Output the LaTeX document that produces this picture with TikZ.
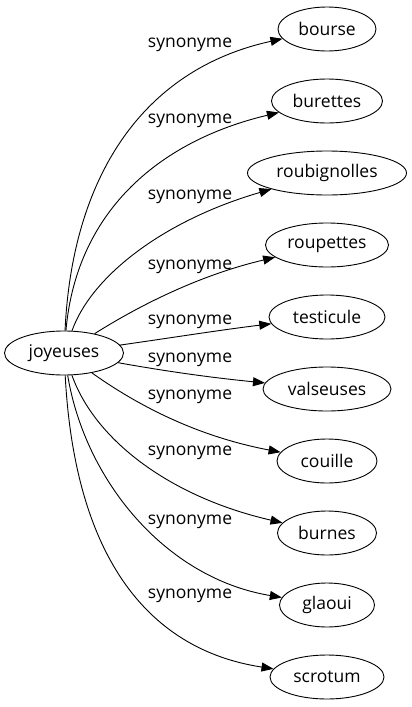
\documentclass[tikz,border=0pt]{standalone}
\usepackage{fontspec}
\setmainfont{Open Sans}
\usetikzlibrary{arrows.meta,shapes.geometric}
\begin{document}
\begin{tikzpicture}[x=1pt,y=-1pt,
  word/.style={ellipse,draw,line width=0.9pt,inner sep=0pt,minimum height=44pt,font=\fontsize{17.5}{20}\selectfont},
  syn/.style={-{Triangle[length=12pt,width=9pt]},line width=0.9pt},
  lab/.style={font=\fontsize{17.5}{20}\selectfont,inner sep=0pt}]
\useasboundingbox (0,0) rectangle (412,707);
\node[word,minimum width=119pt] (j) at (64,353) {joyeuses};
\node[word,minimum width=98pt]  (n1)  at (327,29)  {bourse};
\node[word,minimum width=111pt] (n2)  at (327,101) {burettes};
\node[word,minimum width=159pt] (n3)  at (327,173) {roubignolles};
\node[word,minimum width=123pt] (n4)  at (327,245) {roupettes};
\node[word,minimum width=116pt] (n5)  at (327,317) {testicule};
\node[word,minimum width=128pt] (n6)  at (327,389) {valseuses};
\node[word,minimum width=100pt] (n7)  at (327,461) {couille};
\node[word,minimum width=99pt]  (n8)  at (327,533) {burnes};
\node[word,minimum width=95pt]  (n9)  at (327,605) {glaoui};
\node[word,minimum width=114pt] (n10) at (327,677) {scrotum};
\draw[syn] (j) .. controls (72,180) and (140,70) .. (n1);
\draw[syn] (j) .. controls (76,215) and (155,142) .. (n2);
\draw[syn] (j) .. controls (92,275) and (165,220) .. (n3);
\draw[syn] (j) .. controls (140,305) and (200,275) .. (n4);
\draw[syn] (j) .. controls (170,338) and (220,330) .. (n5);
\draw[syn] (j) .. controls (170,372) and (215,378) .. (n6);
\draw[syn] (j) .. controls (130,400) and (190,435) .. (n7);
\draw[syn] (j) .. controls (95,440) and (170,497) .. (n8);
\draw[syn] (j) .. controls (85,480) and (165,578) .. (n9);
\draw[syn] (j) .. controls (75,560) and (150,650) .. (n10);
\node[lab] (l1)  at (190,45)  {synonyme};
\node[lab] (l2)  at (190,121) {synonyme};
\node[lab] (l3)  at (190,197) {synonyme};
\node[lab] (l4)  at (190,267) {synonyme};
\node[lab] (l5)  at (190,322) {synonyme};
\node[lab] (l6)  at (190,360) {synonyme};
\node[lab] (l7)  at (190,397) {synonyme};
\node[lab] (l8)  at (190,453) {synonyme};
\node[lab] (l9)  at (190,522) {synonyme};
\node[lab] (l10) at (190,596) {synonyme};
\end{tikzpicture}
\end{document}
